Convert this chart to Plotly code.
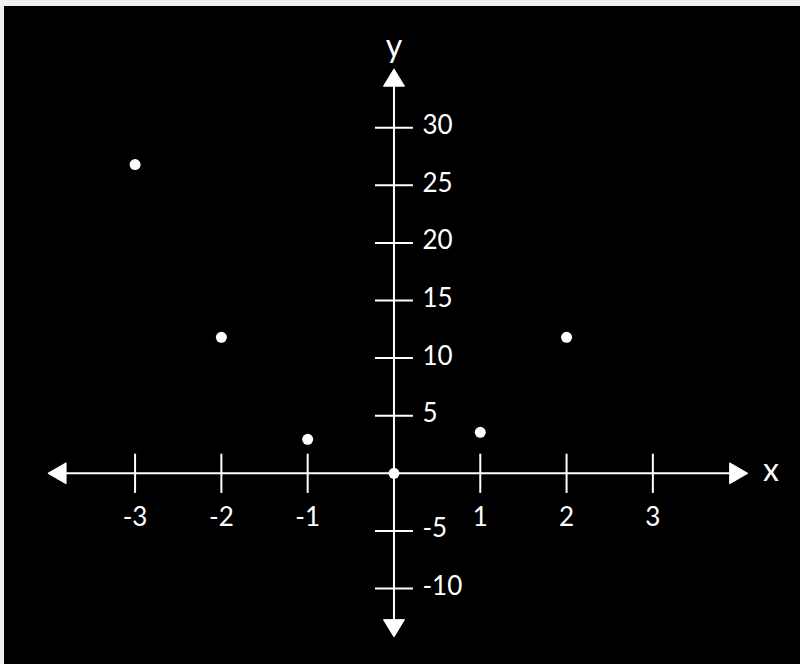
import plotly.graph_objects as go

# ---- data ----
x_points = [-3, -2, -1, 0, 1, 2]
y_points = [26.8, 11.8, 2.95, 0, 3.56, 11.8]

x_ticks = [-3, -2, -1, 1, 2, 3]
x_tick_labels = ["-3", "-2", "-1", "1", "2", "3"]
y_ticks = [30, 25, 20, 15, 10, 5, -5, -10]
y_tick_labels = ["30", "25", "20", "15", "10", "5", "-5", "-10"]

# axis extents (arrow tips) in data units
X_MIN, X_MAX = -4.01, 4.10
Y_MIN, Y_MAX = -14.2, 35.1
ARROW_LEN_X, ARROW_HALF_Y = 0.21, 0.91      # horizontal arrows
ARROW_LEN_Y, ARROW_HALF_X = 1.5, 0.122      # vertical arrows
TICK_HALF_Y = 1.7
TICK_HALF_X = 0.22

FONT = "Lato, sans-serif"
WHITE = "#ffffff"

fig = go.Figure()

# axis lines
fig.add_trace(go.Scatter(x=[X_MIN + ARROW_LEN_X, X_MAX - ARROW_LEN_X], y=[0, 0], mode="lines",
                         line=dict(color=WHITE, width=2), hoverinfo="skip"))
fig.add_trace(go.Scatter(x=[0, 0], y=[Y_MIN + ARROW_LEN_Y, Y_MAX - ARROW_LEN_Y], mode="lines",
                         line=dict(color=WHITE, width=2), hoverinfo="skip"))

# arrow heads
arrows = [
    ([X_MIN, X_MIN + ARROW_LEN_X, X_MIN + ARROW_LEN_X, X_MIN], [0, ARROW_HALF_Y, -ARROW_HALF_Y, 0]),
    ([X_MAX, X_MAX - ARROW_LEN_X, X_MAX - ARROW_LEN_X, X_MAX], [0, ARROW_HALF_Y, -ARROW_HALF_Y, 0]),
    ([0, ARROW_HALF_X, -ARROW_HALF_X, 0], [Y_MAX, Y_MAX - ARROW_LEN_Y, Y_MAX - ARROW_LEN_Y, Y_MAX]),
    ([0, ARROW_HALF_X, -ARROW_HALF_X, 0], [Y_MIN, Y_MIN + ARROW_LEN_Y, Y_MIN + ARROW_LEN_Y, Y_MIN]),
]
for ax_, ay_ in arrows:
    fig.add_trace(go.Scatter(x=ax_, y=ay_, mode="lines", fill="toself", fillcolor=WHITE,
                             line=dict(color=WHITE, width=1), hoverinfo="skip"))

# tick marks
tx, ty = [], []
for t in x_ticks:
    tx += [t, t, None]
    ty += [-TICK_HALF_Y, TICK_HALF_Y, None]
for t in y_ticks:
    tx += [-TICK_HALF_X, TICK_HALF_X, None]
    ty += [t, t, None]
fig.add_trace(go.Scatter(x=tx, y=ty, mode="lines", line=dict(color=WHITE, width=2), hoverinfo="skip"))

# tick labels
fig.add_trace(go.Scatter(x=x_ticks, y=[-4.0] * len(x_ticks), mode="text", text=x_tick_labels,
                         textposition="middle center",
                         textfont=dict(family=FONT, size=26, color=WHITE), hoverinfo="skip"))
fig.add_trace(go.Scatter(x=[0.33] * len(y_ticks), y=y_ticks, mode="text", text=y_tick_labels,
                         textposition="middle right",
                         textfont=dict(family=FONT, size=26, color=WHITE), hoverinfo="skip"))

# axis titles
fig.add_trace(go.Scatter(x=[4.37, 0], y=[0, 36.8], mode="text", text=["x", "y"],
                         textposition="middle center",
                         textfont=dict(family=FONT, size=32, color=WHITE), hoverinfo="skip"))

# data points
fig.add_trace(go.Scatter(x=x_points, y=y_points, mode="markers",
                         marker=dict(color=WHITE, size=11, line=dict(width=0))))

fig.update_xaxes(range=[-4.519, 4.705], visible=False, fixedrange=True)
fig.update_yaxes(range=[-16.55, 40.56], visible=False, fixedrange=True)
fig.update_layout(
    width=800, height=664,
    margin=dict(l=4, r=0, t=6, b=0),
    paper_bgcolor="#000000",
    plot_bgcolor="#000000",
    showlegend=False,
    shapes=[
        dict(type="rect", xref="paper", yref="paper", x0=-0.01, x1=0, y0=-0.01, y1=1.02,
             fillcolor="#f0f0f0", line=dict(width=0), layer="above"),
        dict(type="rect", xref="paper", yref="paper", x0=-0.01, x1=1.01, y0=1, y1=1.02,
             fillcolor="#f0f0f0", line=dict(width=0), layer="above"),
    ],
)

fig.write_html("out.html", config={"displayModeBar": False},
               post_script="document.body.style.margin='0';document.body.style.overflow='hidden';")
